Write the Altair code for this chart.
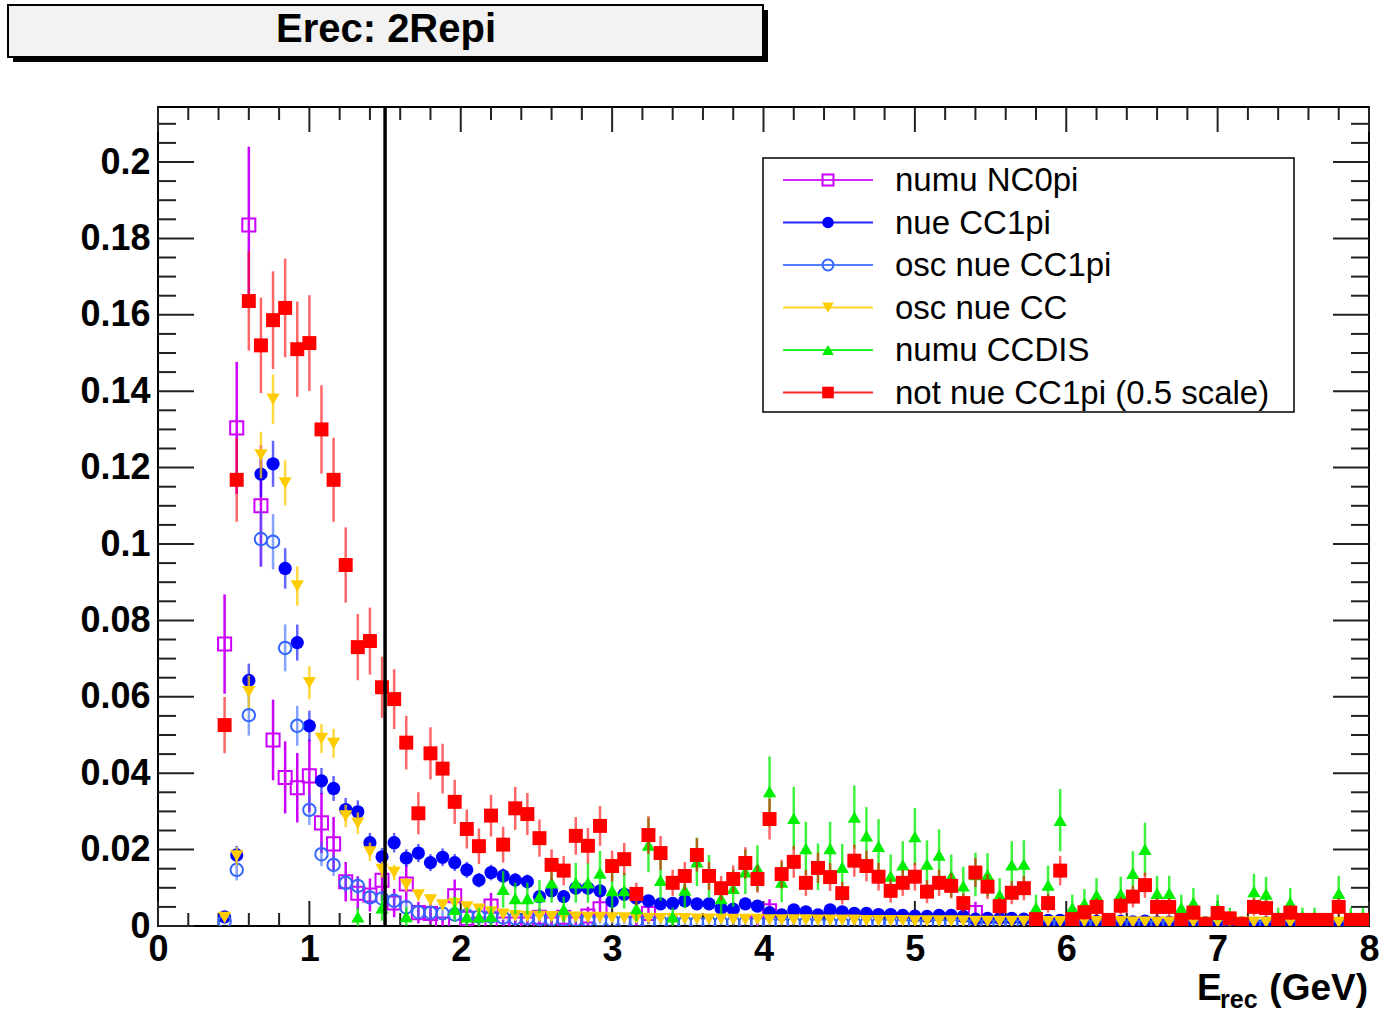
import numpy as np
import pandas as pd
import altair as alt

# ---- binning: 100 bins of 0.08 GeV on [0, 8]; first filled bin is index 5 ----
FIRST_BIN = 5
BIN_W = 0.08
centers = [round(BIN_W / 2 + BIN_W * k, 2) for k in range(FIRST_BIN, 100)]

# ---- bin contents, bins 5..99 (None = empty bin, not drawn) ----
numu_nc0pi = [
    0.0738, 0.1304, 0.1835, 0.110, 0.0487, 0.0389, 0.0362, 0.0393, 0.027, 0.0215,
    0.0116, 0.0086, 0.0081, 0.012, 0.006, 0.011, 0.0035, 0.0033, 0.0005, 0.0079,
    0.002, 0.0005, 0.0052, 0.0005, 0.0005, 0.0005, 0.0023, 0.0005, 0.0023, 0.0005,
    0.0026, 0.0045, None, None, 0.0008, 0.0033, None, None, None, None,
    None, None, None, None, 0.0008, 0.004, None, None, None, None,
    None, None, None, None, None, None, None, None, None, None,
    None, None, 0.0035, None, None, None, None, None, None, None,
    None, None, None, None, None, None, None, None, None, None,
    None, None, None, None, None, None, None, None, None, None,
    None, None, None, None, None,
]
nue_cc1pi = [
    0.0024, 0.0186, 0.0643, 0.1183, 0.121, 0.0936, 0.0742, 0.0524, 0.038, 0.036,
    0.0305, 0.0299, 0.0218, 0.0181, 0.0218, 0.0178, 0.0191, 0.0166, 0.018, 0.0166,
    0.0147, 0.012, 0.014, 0.0131, 0.012, 0.0116, 0.0077, 0.0092, 0.0077, 0.0099,
    0.0099, 0.0092, 0.0065, 0.0083, 0.0073, 0.0066, 0.0058, 0.0059, 0.0066, 0.0058,
    0.0058, 0.0046, 0.0044, 0.0058, 0.0052, 0.0035, 0.0029, 0.0042, 0.0037, 0.0029,
    0.0042, 0.0037, 0.0033, 0.0033, 0.003, 0.003, 0.0028, 0.0026, 0.0025, 0.0028,
    0.0028, 0.0025, 0.0018, 0.002, 0.002, 0.002, 0.0018, 0.0018, 0.0015, 0.0015,
    0.0016, 0.0015, 0.0012, 0.0011, 0.0012, 0.0011, 0.0013, 0.001, 0.001, 0.0009,
    0.0009, 0.0009, 0.0008, 0.0008, 0.0008, 0.0007, 0.0008, 0.0007, 0.0007, 0.0006,
    0.0006, 0.0006, 0.0006, 0.0005, 0.0005,
]
osc_nue_cc1pi = [
    0.0012, 0.0147, 0.0552, 0.1013, 0.1006, 0.0728, 0.0524, 0.0304, 0.0188, 0.016,
    0.0113, 0.0105, 0.0075, 0.0072, 0.0066, 0.0049, 0.0036, 0.0035, 0.0033, 0.003,
    0.0028, 0.0025, 0.0025, 0.0022, 0.002, 0.002, 0.0018, 0.0017, 0.0016, 0.0016,
    0.0015, 0.0015, 0.0014, 0.0013, 0.0013, 0.0012, 0.0011, 0.0011, 0.001, 0.001,
    0.001, 0.0009, 0.0009, 0.0009, 0.0009, 0.0008, 0.0008, 0.0008, 0.0008, 0.0007,
    0.0007, 0.0007, 0.0007, 0.0007, 0.0007, 0.0006, 0.0006, 0.0006, 0.0006, 0.0006,
    0.0006, 0.0005, 0.0005, 0.0005, 0.0005, 0.0005, 0.0005, 0.0005, 0.0004, 0.0004,
    0.0004, 0.0004, 0.0004, 0.0004, 0.0004, 0.0004, 0.0004, 0.0003, 0.0003, 0.0003,
    0.0003, 0.0003, 0.0003, 0.0003, 0.0003, 0.0003, 0.0003, 0.0003, 0.0003, 0.0003,
    0.0003, 0.0003, 0.0003, 0.0003, 0.0003,
]
osc_nue_cc = [
    0.0022, 0.0183, 0.0613, 0.1233, 0.1379, 0.116, 0.089, 0.0637, 0.0491, 0.0478,
    0.0288, 0.0269, 0.0194, 0.0148, 0.014, 0.0108, 0.0081, 0.0068, 0.0055, 0.0059,
    0.005, 0.0044, 0.0037, 0.0031, 0.0027, 0.0025, 0.0025, 0.0024, 0.0023, 0.0023,
    0.0022, 0.0022, 0.0021, 0.0021, 0.002, 0.002, 0.0019, 0.0019, 0.0019, 0.0018,
    0.0018, 0.0018, 0.0017, 0.0017, 0.0017, 0.0016, 0.0016, 0.0016, 0.0016, 0.0015,
    0.0015, 0.0015, 0.0015, 0.0014, 0.0014, 0.0014, 0.0014, 0.0013, 0.0013, 0.0013,
    0.0013, 0.0013, 0.0012, 0.0012, 0.0012, 0.0012, 0.0012, 0.0012, 0.0011, 0.0011,
    0.0011, 0.0011, 0.0011, 0.0011, 0.0011, 0.001, 0.001, 0.001, 0.001, 0.001,
    0.001, 0.001, 0.001, 0.001, 0.001, 0.001, 0.0009, 0.0009, 0.0009, 0.0009,
    0.0009, 0.0009, 0.0009, 0.0009, 0.0009,
]
numu_ccdis = [
    None, None, None, None, None, None, None, None, None, None,
    None, 0.0024, None, 0.0048, None, 0.0025, None, None, None, 0.0044,
    0.0024, 0.0024, 0.0026, 0.0096, 0.0072, 0.0072, 0.0077, 0.0113, 0.0044, 0.0113,
    0.0113, 0.0139, 0.0093, 0.0093, 0.0046, 0.0212, 0.012, 0.0024, 0.0094, 0.0168,
    0.013, 0.0072, 0.0099, 0.0142, 0.0151, 0.0352, 0.0115, 0.0282, 0.0203, 0.0155,
    0.0203, 0.0154, 0.0285, 0.0236, 0.0209, 0.0131, 0.016, 0.0234, 0.0162, 0.0186,
    0.0131, 0.0105, 0.0135, 0.0134, 0.0081, 0.016, 0.0162, 0.0048, 0.0107, 0.0277,
    0.0048, 0.0059, 0.0081, None, 0.0084, 0.0138, 0.0201, 0.0086, 0.0086, 0.0048,
    0.0061, None, 0.0048, 0.0024, None, 0.009, 0.0084, 0.0024, 0.0061, 0.0024,
    0.0024, None, 0.0086, 0.0024, 0.0024,
]
not_nue_cc1pi = [
    0.0526, 0.1168, 0.1636, 0.152, 0.1586, 0.1618, 0.151, 0.1526, 0.130, 0.1168,
    0.0945, 0.073, 0.0746, 0.0625, 0.0594, 0.048, 0.0295, 0.0452, 0.0412, 0.0325,
    0.0254, 0.0209, 0.0289, 0.0213, 0.0308, 0.0293, 0.023, 0.016, 0.0145, 0.0236,
    0.021, 0.0262, 0.0157, 0.0175, 0.0084, 0.0238, 0.0191, 0.0113, 0.0131, 0.0186,
    0.0131, 0.0099, 0.0123, 0.0165, 0.0123, 0.028, 0.0136, 0.0168, 0.0113, 0.0152,
    0.0128, 0.0086, 0.0171, 0.0157, 0.0129, 0.0092, 0.0113, 0.0129, 0.009, 0.0113,
    0.0105, 0.006, 0.014, 0.0103, 0.0052, 0.0087, 0.0099, 0.0018, 0.006, 0.0145,
    0.0018, 0.0036, 0.005, 0.0016, 0.0053, 0.0077, 0.0107, 0.005, 0.005, 0.0016,
    0.0035, 0.0005, 0.0034, 0.002, 0.0005, 0.005, 0.0047, 0.0016, 0.0035, 0.0016,
    0.0016, 0.0016, 0.005, 0.0016, 0.0016,
]

# per-event weight of each sample: statistical error of a bin = sqrt(content * weight)
event_weight = {
    "numu NC0pi": 0.00229,
    "nue CC1pi": 0.0003,
    "osc nue CC1pi": 0.00052,
    "osc nue CC": 0.0003,
    "numu CCDIS": 0.0024,
    "not nue CC1pi (0.5 scale)": 0.00103,
}

# legend / draw order, style of each sample: name, data, colour, shape, filled, size, bar opacity
series = [
    ("numu NC0pi", numu_nc0pi, "#cc00ff", "square", False, 170, 1.0),
    ("nue CC1pi", nue_cc1pi, "#0000ff", "circle", True, 175, 0.6),
    ("osc nue CC1pi", osc_nue_cc1pi, "#3366ff", "circle", False, 155, 0.6),
    ("osc nue CC", osc_nue_cc, "#ffcc00", "triangle-down", True, 175, 0.75),
    ("numu CCDIS", numu_ccdis, "#00ee00", "triangle-up", True, 175, 0.75),
    ("not nue CC1pi (0.5 scale)", not_nue_cc1pi, "#ff0000", "square", True, 195, 0.6),
]

cut_energy = [1.5]

x_major = list(range(0, 9))
x_minor = [round(0.2 * i, 1) for i in range(41) if i % 5 != 0]
y_major = [round(0.02 * i, 2) for i in range(11)]
y_minor = [round(0.005 * i, 3) for i in range(43) if i % 4 != 0]

# ---- geometry ----
W, H = 1211, 819
Y_TOP = 0.2144
FONT = "Liberation Sans"

xs = alt.Scale(domain=[0, 8], nice=False, zero=False)
ys = alt.Scale(domain=[0, Y_TOP], nice=False, zero=False)
X_AX = alt.Axis(values=x_major, format="d", ticks=False, domain=False, grid=False,
                labelFont=FONT, labelFontWeight="bold", labelFontSize=36,
                labelColor="black", labelPadding=6, labelFlush=False,
                labelOverlap=False, labelBound=False, title=None)
Y_AX = alt.Axis(values=y_major, labelExpr="format(datum.value, '.2~f')", ticks=False,
                domain=False, grid=False, labelFont=FONT, labelFontWeight="bold",
                labelFontSize=36, labelColor="black", labelPadding=8,
                labelFlush=False, labelOverlap=False, labelBound=False, title=None)


def xenc(field):
    return alt.X(f"{field}:Q", scale=xs, axis=X_AX)


def yenc(field):
    return alt.Y(f"{field}:Q", scale=ys, axis=Y_AX)


layers = []

# inner tick marks on all four sides of the frame
ticks_y_major = pd.DataFrame({"v": y_major})
ticks_y_minor = pd.DataFrame({"v": y_minor})
ticks_x_major = pd.DataFrame({"v": x_major})
ticks_x_minor = pd.DataFrame({"v": x_minor})
tick_style = dict(color="#222222", strokeWidth=2)
for df, length in [(ticks_y_major, 36), (ticks_y_minor, 18)]:
    layers.append(alt.Chart(df).mark_rule(**tick_style).encode(
        y=yenc("v"), x=alt.value(0), x2=alt.value(length)))
    layers.append(alt.Chart(df).mark_rule(**tick_style).encode(
        y=yenc("v"), x=alt.value(W - length), x2=alt.value(W)))
for df, length in [(ticks_x_major, 25), (ticks_x_minor, 13)]:
    layers.append(alt.Chart(df).mark_rule(**tick_style).encode(
        x=xenc("v"), y=alt.value(H - length), y2=alt.value(H)))
    layers.append(alt.Chart(df).mark_rule(**tick_style).encode(
        x=xenc("v"), y=alt.value(0), y2=alt.value(length)))

# histograms with statistical error bars
for name, values, color, shape, filled, size, bar_op in series:
    df = pd.DataFrame({"x": centers, "v": values}).dropna()
    df["v"] = df["v"].astype(float)
    err = np.sqrt(df["v"] * event_weight[name])
    df["lo"] = df["v"] - err
    df["hi"] = df["v"] + err
    base = alt.Chart(df)
    layers.append(base.mark_rule(color=color, strokeWidth=2.5, opacity=bar_op, clip=True)
                  .encode(x=xenc("x"), y=yenc("lo"), y2="hi:Q"))
    if filled:
        pt = base.mark_point(shape=shape, filled=True, color=color, size=size,
                             opacity=1, clip=True)
    else:
        pt = base.mark_point(shape=shape, filled=False, color=color, size=size,
                             opacity=1, strokeWidth=2, clip=True)
    layers.append(pt.encode(x=xenc("x"), y=yenc("v")))

# selection cut
layers.append(alt.Chart(pd.DataFrame({"x": cut_energy})).mark_rule(
    color="black", strokeWidth=3.5).encode(x=xenc("x")))

# legend box
one = pd.DataFrame({"t": [""]})
LX0, LX1, LY0, LY1 = 605, 1136, 51, 305
layers.append(alt.Chart(one).mark_rect(fill="white", stroke="black", strokeWidth=1.5)
              .encode(x=alt.value(LX0), x2=alt.value(LX1), y=alt.value(LY0), y2=alt.value(LY1)))
for i, (name, values, color, shape, filled, size, bar_op) in enumerate(series):
    ry = 73 + 42.5 * i
    row = pd.DataFrame({"t": [name]})
    layers.append(alt.Chart(row).mark_rule(color=color, strokeWidth=2, opacity=0.85)
                  .encode(x=alt.value(625), x2=alt.value(715), y=alt.value(ry)))
    if filled:
        lp = alt.Chart(row).mark_point(shape=shape, filled=True, color=color,
                                       size=135, opacity=1)
    else:
        lp = alt.Chart(row).mark_point(shape=shape, filled=False, color=color,
                                       size=120, opacity=1, strokeWidth=2)
    layers.append(lp.encode(x=alt.value(670), y=alt.value(ry)))
    layers.append(alt.Chart(row).mark_text(font=FONT, fontSize=33, align="left",
                                           baseline="middle", color="black")
                  .encode(text="t:N", x=alt.value(737), y=alt.value(ry + 1)))

# title box with drop shadow
title_df = pd.DataFrame({"t": ["Erec: 2Repi"]})
layers.append(alt.Chart(title_df).mark_rect(fill="black")
              .encode(x=alt.value(-145), x2=alt.value(610), y=alt.value(-97), y2=alt.value(-45)))
layers.append(alt.Chart(title_df).mark_rect(fill="#f2f2f2", stroke="black", strokeWidth=2)
              .encode(x=alt.value(-150), x2=alt.value(605), y=alt.value(-102), y2=alt.value(-50)))
layers.append(alt.Chart(title_df).mark_text(font=FONT, fontSize=40, fontWeight="bold",
                                            align="center", baseline="middle", color="black")
              .encode(text="t:N", x=alt.value(228), y=alt.value(-77)))

# x axis title E_rec (GeV), below the tick labels at the right end
for txt, xpos, ypos, fs, al in [("E", 1039, 893, 37, "left"),
                                ("rec", 1062, 901, 25, "left"),
                                ("(GeV)", 1210, 893, 37, "right")]:
    layers.append(alt.Chart(pd.DataFrame({"t": [txt]})).mark_text(
        font=FONT, fontSize=fs, fontWeight="bold", align=al, baseline="alphabetic",
        color="black").encode(text="t:N", x=alt.value(xpos), y=alt.value(ypos)))

chart = alt.layer(*layers).properties(
    width=W, height=H,
    autosize=alt.AutoSizeParams(type="none"),
    padding={"left": 158, "top": 107, "right": 12, "bottom": 90},
    background="white",
).configure_view(stroke="black", strokeWidth=2)

chart.save("out.html", embed_options={"renderer": "svg", "actions": False})
